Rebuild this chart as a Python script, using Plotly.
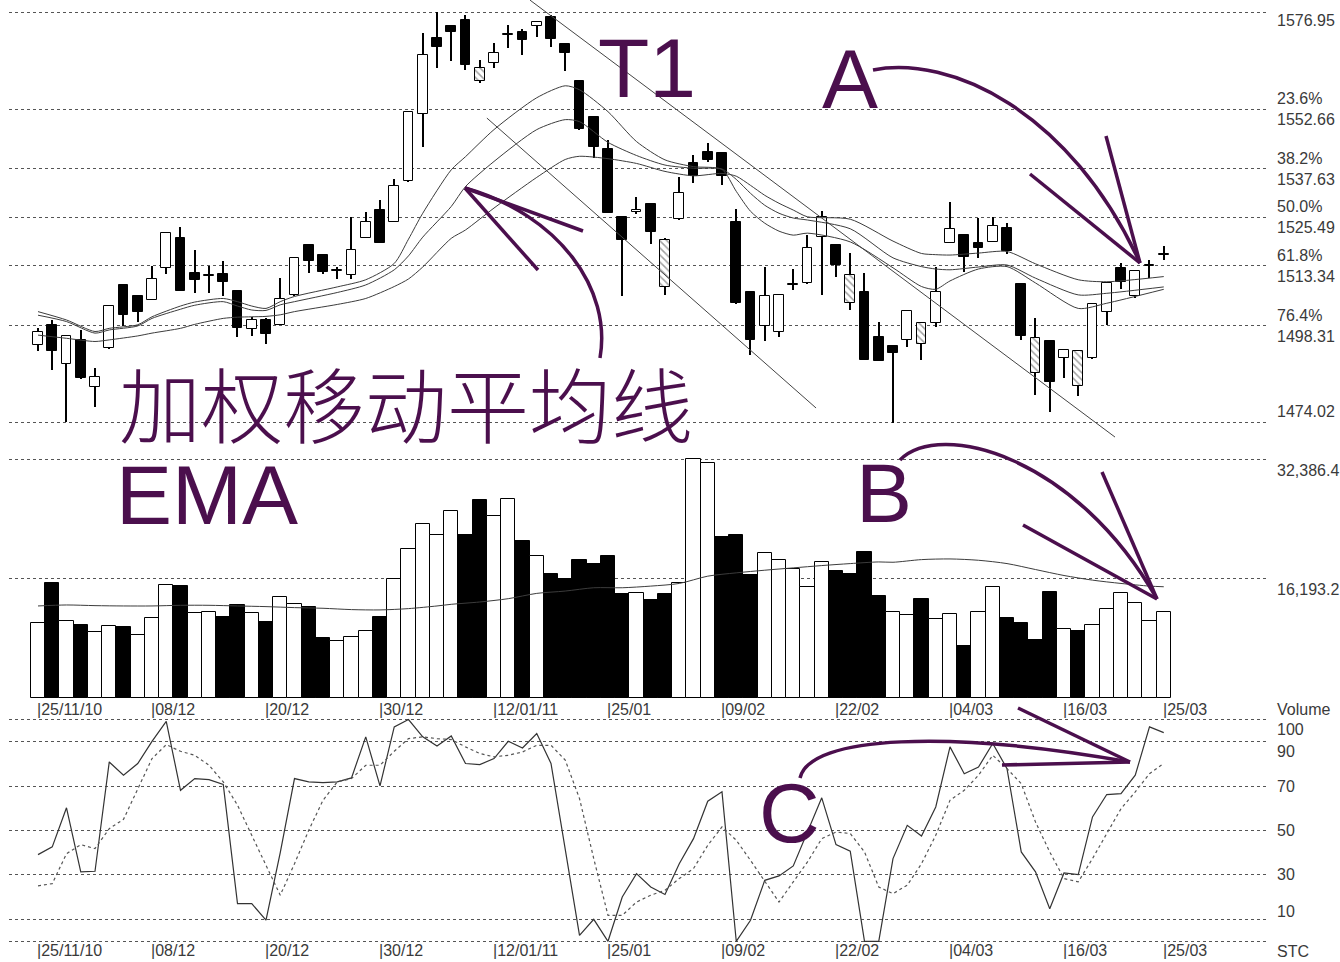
import plotly.graph_objects as go

W, H = 1340, 962

# ---------------- data ----------------
date_idx = [0, 8, 16, 24, 32, 40, 48, 56, 64, 72, 79]
date_labels = ["25/11/10", "08/12", "20/12", "30/12", "12/01/11", "25/01",
               "09/02", "22/02", "04/03", "16/03", "25/03"]

opens = [1493.4, 1498.5, 1488.7, 1494.7, 1482.8, 1492.6, 1508.5, 1505.7, 1504.6, 1512.7,
         1520.2, 1511.6, 1510.8, 1511.3, 1507.1, 1497.4, 1499.7, 1498.5, 1506.0, 1518.5,
         1516.0, 1512.0, 1511.0, 1520.4, 1527.2, 1524.4, 1534.5, 1551.4, 1570.4, 1573.5,
         1574.9, 1559.6, 1564.3, 1571.3, 1572.1, 1573.5, 1575.7, 1568.9, 1559.7, 1550.6,
         1542.6, 1525.5, 1526.9, 1528.8, 1507.9, 1525.0, 1539.2, 1542.0, 1541.6, 1524.4,
         1506.8, 1498.2, 1496.8, 1508.5, 1508.9, 1520.6, 1518.5, 1503.9, 1506.8, 1495.5,
         1493.2, 1494.8, 1493.7, 1499.0, 1519.1, 1521.0, 1519.1, 1519.4, 1522.7, 1508.7,
         1486.3, 1494.3, 1490.1, 1483.1, 1490.1, 1501.8, 1512.7, 1505.7, 1513.3, 1516.0]
highs = [1497.6, 1499.7, 1496.0, 1497.2, 1487.7, 1503.3, 1508.6, 1505.9, 1513.3, 1521.6,
         1523.1, 1517.3, 1513.3, 1514.4, 1507.2, 1500.5, 1500.1, 1510.2, 1515.3, 1518.6,
         1516.1, 1513.1, 1525.6, 1526.7, 1529.8, 1535.0, 1551.9, 1571.7, 1577.1, 1573.6,
         1576.3, 1565.0, 1569.2, 1573.8, 1572.7, 1574.7, 1576.3, 1569.0, 1559.8, 1550.7,
         1544.9, 1525.6, 1530.7, 1528.9, 1520.4, 1535.7, 1541.1, 1544.2, 1541.6, 1527.5,
         1506.9, 1513.1, 1506.1, 1512.6, 1521.0, 1527.0, 1518.6, 1516.5, 1511.4, 1499.3,
         1493.3, 1502.1, 1499.1, 1513.1, 1529.4, 1521.1, 1525.2, 1525.6, 1524.1, 1508.8,
         1500.1, 1494.7, 1492.3, 1491.9, 1503.8, 1509.0, 1513.9, 1512.2, 1514.8, 1518.3]
lows = [1491.8, 1487.2, 1474.2, 1485.0, 1477.8, 1492.5, 1498.2, 1499.3, 1504.6, 1511.3,
        1507.0, 1506.6, 1506.4, 1505.6, 1495.5, 1495.7, 1493.7, 1498.4, 1505.6, 1511.4,
        1511.2, 1510.0, 1510.1, 1520.3, 1519.0, 1524.4, 1534.4, 1543.2, 1562.9, 1564.6,
        1562.5, 1559.1, 1562.9, 1567.9, 1566.2, 1570.8, 1568.3, 1562.3, 1547.5, 1540.3,
        1526.5, 1505.7, 1526.4, 1518.9, 1506.0, 1524.9, 1534.0, 1539.4, 1533.6, 1503.8,
        1490.9, 1494.3, 1495.5, 1507.2, 1508.8, 1506.0, 1510.6, 1502.2, 1489.6, 1489.4,
        1473.9, 1493.0, 1489.7, 1498.0, 1519.0, 1511.8, 1515.2, 1519.3, 1516.3, 1494.7,
        1480.9, 1476.7, 1485.1, 1480.5, 1489.8, 1498.5, 1507.6, 1505.1, 1510.2, 1514.8]
closes = [1496.8, 1492.0, 1495.7, 1485.1, 1485.5, 1503.2, 1501.0, 1501.8, 1509.9, 1521.5,
          1507.1, 1509.8, 1510.8, 1509.3, 1497.6, 1499.7, 1496.2, 1505.0, 1515.2, 1514.4,
          1511.8, 1512.0, 1517.3, 1524.2, 1519.0, 1533.4, 1551.8, 1566.2, 1568.3, 1572.1,
          1563.7, 1562.9, 1566.7, 1571.3, 1570.0, 1574.6, 1570.2, 1566.7, 1547.6, 1543.1,
          1526.6, 1519.9, 1526.9, 1521.9, 1519.9, 1531.7, 1535.9, 1539.9, 1535.9, 1503.9,
          1494.7, 1505.6, 1506.0, 1508.5, 1517.7, 1525.6, 1513.5, 1511.0, 1489.7, 1489.5,
          1491.4, 1502.0, 1499.0, 1506.8, 1522.5, 1515.6, 1517.7, 1523.3, 1517.1, 1495.7,
          1495.1, 1484.2, 1492.2, 1491.8, 1503.7, 1508.9, 1509.3, 1512.1, 1513.3, 1516.0]

volume = [10152, 15632, 10466, 9927, 8894, 9793, 9568, 8535, 10916, 15273,
          15183, 11589, 11679, 11005, 12578, 11499, 10332, 13746, 12712, 12398,
          8131, 7771, 8220, 9119, 11005, 16081, 20259, 23583, 22056, 25380,
          22146, 26862, 24706, 26997, 21337, 19226, 16890, 16171, 18777, 18238,
          19316, 14060, 14195, 13296, 14060, 15542, 32387, 31893, 21831, 22146,
          16755, 19675, 18777, 17519, 15048, 18417, 17204, 16890, 19765, 13835,
          11679, 11230, 13476, 10691, 11455, 7008, 11679, 15048, 10916, 10242,
          7861, 14374, 9343, 9119, 9883, 12039, 14285, 12937, 10466, 11679]

# weighted moving averages
ma_idx = [0, 2, 4, 5, 7, 8, 10, 11, 13, 14, 15, 16, 17, 18, 21, 23, 25, 26, 27, 29,
          30, 32, 35, 37, 38, 40, 42, 44, 46, 48, 49, 50, 51, 52, 53, 54, 57, 60, 62, 63,
          64, 66, 68, 70, 73, 75, 79]
ma_fast = [1501.8, 1499.7, 1496.8, 1497.6, 1498.5, 1500.5, 1503.2, 1504.2, 1505.1, 1504.3,
           1503.2, 1502.6, 1504.3, 1505.6, 1508.0, 1509.8, 1513.9, 1520.0, 1526.5, 1537.4,
           1540.7, 1547.5, 1555.5, 1558.5, 1557.5, 1552.0, 1544.5, 1539.9, 1538.2, 1537.5,
           1532.0, 1527.0, 1524.0, 1522.0, 1521.0, 1521.5, 1519.3, 1512.8, 1508.1, 1507.4,
           1509.5, 1512.5, 1513.1, 1509.0, 1502.6, 1503.9, 1507.4]
ma_mid = [1500.9, 1499.3, 1496.4, 1497.2, 1498.2, 1500.1, 1502.4, 1503.4, 1504.3, 1503.2,
          1502.2, 1502.1, 1503.5, 1504.3, 1506.6, 1508.5, 1512.3, 1515.8, 1520.5, 1528.2,
          1533.2, 1539.5, 1547.5, 1550.0, 1549.5, 1544.3, 1541.0, 1538.6, 1537.8, 1537.6,
          1535.0, 1531.5, 1528.5, 1526.5, 1525.3, 1524.8, 1522.6, 1515.3, 1513.1, 1512.5,
          1512.3, 1513.0, 1513.5, 1510.2, 1506.0, 1506.4, 1508.0]
ma_slow = [1495.9, 1495.1, 1494.3, 1494.7, 1495.7, 1496.4, 1497.6, 1498.6, 1500.1, 1500.4,
           1500.5, 1500.6, 1501.0, 1501.8, 1503.6, 1505.1, 1508.1, 1510.0, 1513.0, 1520.2,
           1522.3, 1527.8, 1535.5, 1540.0, 1540.8, 1540.2, 1539.0, 1537.0, 1535.9, 1536.5,
           1535.8, 1533.5, 1531.0, 1529.0, 1527.3, 1525.6, 1525.0, 1519.5, 1516.4, 1516.1,
           1516.0, 1516.5, 1516.9, 1513.8, 1509.8, 1509.3, 1510.6]

vma_idx = [0, 2, 4, 6, 8, 10, 12, 14, 16, 18, 20, 22, 24, 26, 28, 29, 31, 33, 35, 37,
           39, 41, 43, 45, 47, 49, 51, 53, 55, 57, 59, 60, 62, 64, 66, 68, 70, 72, 74, 76,
           78, 79]
vma = [12488, 12622, 12533, 12488, 12488, 12578, 12578, 12488, 12398, 12263,
       12173, 11994, 11949, 12128, 12488, 12712, 13027, 13476, 14195, 14509,
       14958, 14958, 15183, 15542, 16531, 16980, 17339, 17654, 17968, 18238,
       18462, 18417, 18776, 18866, 18687, 18238, 17429, 16620, 15991, 15542,
       15183, 15093]

stoch_k = [39.1, 42.6, 60.2, 31.3, 31.6, 80.9, 74.9, 80.2, 90.2, 99.2,
           68.1, 73.4, 72.9, 70.7, 17.0, 17.0, 9.5, 40.0, 73.4, 71.9,
           71.6, 71.9, 73.7, 92.2, 70.1, 96.7, 100.0, 92.2, 88.1, 92.6,
           80.2, 79.7, 82.4, 90.2, 87.2, 93.7, 80.2, 41.5, 2.7, 9.9,
           0.0, 20.0, 30.5, 24.5, 21.1, 35.0, 46.3, 63.2, 67.4, 0.0,
           9.5, 27.5, 29.5, 34.0, 49.3, 64.7, 43.6, 40.6, 0.0, 0.0,
           37.3, 52.3, 47.5, 60.6, 87.7, 75.6, 78.6, 89.2, 77.9, 40.3,
           31.3, 14.7, 30.8, 30.1, 56.1, 66.2, 66.6, 74.9, 96.7, 94.1]
stoch_d = [25.0, 26.0, 39.5, 43.6, 41.8, 50.8, 55.0, 68.9, 82.4, 88.7,
           85.7, 83.9, 79.4, 71.9, 61.4, 47.8, 34.3, 20.8, 35.0, 50.1,
           63.6, 71.9, 73.4, 79.4, 79.4, 85.7, 91.4, 92.2, 91.4, 91.0,
           87.7, 84.7, 83.2, 83.9, 85.4, 88.4, 88.4, 81.7, 64.4, 37.3,
           11.7, 11.7, 17.7, 20.8, 23.0, 28.3, 32.8, 43.3, 51.6, 45.6,
           36.5, 26.8, 17.7, 26.8, 35.8, 46.3, 49.3, 48.6, 40.3, 24.5,
           21.5, 25.3, 35.0, 47.8, 63.6, 68.1, 74.9, 83.9, 77.9, 71.1,
           53.8, 40.3, 28.3, 26.8, 37.3, 48.6, 59.8, 67.4, 75.6, 80.2]

price_levels = [1576.95, 1552.66, 1537.63, 1525.49, 1513.34, 1498.31, 1474.02]
fib_labels = ["", "23.6%", "38.2%", "50.0%", "61.8%", "76.4%", ""]
vol_levels = [32386.4, 16193.2]
vol_level_labels = ["32,386.4", "16,193.2"]
stoch_levels = [100, 90, 70, 50, 30, 10, 0]

# hand-drawn trend lines (index, price)
trend1_x, trend1_y = [34.53, 75.58], [1580.0, 1470.3]
trend2_x, trend2_y = [31.5, 54.6], [1550.4, 1477.6]

# ---------------- styling / helpers ----------------
PURPLE = "#4b0f4d"
GRID = "#555555"
TXT = "#3a3a3a"
LBL_FONT = "Liberation Sans, Arial, sans-serif"


def ppx(x):
    return x / W


def ppy(y):
    return 1 - y / H


n = len(closes)
idx = list(range(n))
body_base = [min(o, c) for o, c in zip(opens, closes)]
body_h = [max(abs(c - o), 0.3) for o, c in zip(opens, closes)]
prev_close = [closes[0]] + closes[:-1]
hatched = [(c > o and c < pc) for o, c, pc in zip(opens, closes, prev_close)]
body_col = ["black" if c < o else "white" for o, c in zip(opens, closes)]
body_pat = ["\\" if h else "" for h in hatched]
vol_col = ["black" if (i > 0 and closes[i] < closes[i - 1]) else "white" for i in idx]

fig = go.Figure()

# wicks (bars so they sit under bodies)
fig.add_trace(go.Bar(x=idx, y=[h - l for h, l in zip(highs, lows)], base=lows,
                     width=0.075, marker=dict(color="black", line=dict(width=0)),
                     xaxis="x", yaxis="y", hoverinfo="skip", showlegend=False))
# bodies
fig.add_trace(go.Bar(x=idx, y=body_h, base=body_base, width=0.68,
                     marker=dict(color=body_col, line=dict(color="black", width=1),
                                 pattern=dict(shape=body_pat, fgcolor="black",
                                              bgcolor="white", size=5, solidity=0.3)),
                     xaxis="x", yaxis="y", showlegend=False))

# weighted moving averages
for arr in (ma_fast, ma_mid, ma_slow):
    fig.add_trace(go.Scatter(x=ma_idx, y=arr, mode="lines",
                             line=dict(color="#3c3c3c", width=1, shape="spline", smoothing=0.7),
                             xaxis="x", yaxis="y", showlegend=False))

# trend lines
for tx, ty in ((trend1_x, trend1_y), (trend2_x, trend2_y)):
    fig.add_trace(go.Scatter(x=tx, y=ty, mode="lines", line=dict(color="#444", width=1),
                             xaxis="x", yaxis="y", showlegend=False, cliponaxis=False))

# volume
fig.add_trace(go.Bar(x=idx, y=volume, width=1.0,
                     marker=dict(color=vol_col, line=dict(color="black", width=1)),
                     xaxis="x2", yaxis="y2", showlegend=False))
fig.add_trace(go.Scatter(x=vma_idx, y=vma, mode="lines",
                         line=dict(color="#3c3c3c", width=1, shape="spline", smoothing=0.8),
                         xaxis="x2", yaxis="y2", showlegend=False))

# stochastic
fig.add_trace(go.Scatter(x=idx, y=stoch_k, mode="lines", line=dict(color="#333", width=1.2),
                         xaxis="x3", yaxis="y3", showlegend=False))
fig.add_trace(go.Scatter(x=idx, y=stoch_d, mode="lines",
                         line=dict(color="#555", width=1.2, dash="3px,3px"),
                         xaxis="x3", yaxis="y3", showlegend=False))

# ---------------- axes ----------------
xr = [(9 - 38) / 14.25, (1268 - 38) / 14.25]
xdom = [9 / W, 1268 / W]
xcommon = dict(range=xr, domain=xdom, showgrid=False, zeroline=False, showticklabels=False,
               showline=False, ticks="")
gcommon = dict(showgrid=True, gridcolor=GRID, gridwidth=1, griddash="3px,3px",
               zeroline=False, showticklabels=False, showline=False, ticks="")

fig.update_layout(
    width=W, height=H, margin=dict(l=0, r=0, t=0, b=0),
    paper_bgcolor="white", plot_bgcolor="white", barmode="overlay", bargap=0,
    showlegend=False,
    xaxis=dict(**xcommon, anchor="y"),
    xaxis2=dict(**xcommon, anchor="y2", matches="x"),
    xaxis3=dict(**xcommon, anchor="y3", matches="x"),
    yaxis=dict(**gcommon, domain=[1 - 445 / H, 1], range=[1468.31, 1580.04],
               tickvals=price_levels, anchor="x"),
    yaxis2=dict(**gcommon, domain=[1 - 699 / H, 1 - 448 / H], range=[-136, 33920],
                tickvals=vol_levels, anchor="x2"),
    yaxis3=dict(**gcommon, domain=[1 - 944 / H, 1 - 716 / H], range=[-1.22, 101.62],
                tickvals=stoch_levels, anchor="x3"),
)

ann = []
lblx = 1275 / W
# price labels
for lv, fl in zip(price_levels, fib_labels):
    if fl:
        ann.append(dict(x=lblx, xref="paper", y=lv, yref="y", text=f"{fl}<br>{lv:.2f}",
                        xanchor="left", yanchor="middle", showarrow=False, align="left"))
    else:
        shift = -8 if lv == price_levels[0] else 11
        ann.append(dict(x=lblx, xref="paper", y=lv, yref="y", text=f"{lv:.2f}",
                        xanchor="left", yanchor="middle", showarrow=False, yshift=shift))
for lv, tl in zip(vol_levels, vol_level_labels):
    ann.append(dict(x=lblx, xref="paper", y=lv, yref="y2", text=tl, xanchor="left",
                    yanchor="middle", showarrow=False, yshift=-11))
stoch_shift = {100: -10, 90: -10, 70: 0, 50: 0, 30: 0, 10: 8}
for lv in stoch_levels:
    if lv in stoch_shift:
        ann.append(dict(x=lblx, xref="paper", y=lv, yref="y3", text=str(lv), xanchor="left",
                        yanchor="middle", showarrow=False, yshift=stoch_shift[lv]))
ann.append(dict(x=lblx, xref="paper", y=ppy(709), yref="paper", text="Volume",
                xanchor="left", yanchor="middle", showarrow=False))
ann.append(dict(x=lblx, xref="paper", y=ppy(951), yref="paper", text="STC",
                xanchor="left", yanchor="middle", showarrow=False))
# date labels under volume and stochastic panels
for di, dl in zip(date_idx, date_labels):
    for xa, yy in (("x2", 709), ("x3", 950)):
        ann.append(dict(x=di, xref=xa, y=ppy(yy), yref="paper", text="|" + dl,
                        xanchor="left", yanchor="middle", showarrow=False, xshift=-3))
for a in ann:
    a["font"] = dict(family=LBL_FONT, size=16, color=TXT)

# purple hand annotations
big = dict(family="Liberation Sans, Arial, sans-serif", size=84, color=PURPLE)
for txt, cx, cy in (("T1", 647, 68), ("A", 850, 79), ("B", 884, 493), ("C", 789, 813),
                    ("EMA", 207, 495)):
    ann.append(dict(x=ppx(cx), y=ppy(cy), xref="paper", yref="paper", text=txt,
                    showarrow=False, xanchor="center", yanchor="middle", font=big))
ann.append(dict(x=ppx(406), y=ppy(401), xref="paper", yref="paper", text="加权移动平均线",
                showarrow=False, xanchor="center", yanchor="middle",
                font=dict(family="Noto Sans CJK SC, sans-serif", size=82, color=PURPLE,
                          weight=300)))
fig.update_layout(annotations=ann)


def P(x, y):
    return f"{ppx(x):.5f},{ppy(y):.5f}"


shapes = []
curves = [
    ((600, 358), (612, 290), (560, 215), (465, 188)),
    ((873, 70), (950, 55), (1070, 110), (1140, 263)),
    ((900, 460), (940, 420), (1075, 455), (1157, 599)),
    ((800, 778), (810, 735), (950, 730), (1130, 762)),
]
for p0, c1, c2, p3 in curves:
    shapes.append(dict(type="path", xref="paper", yref="paper",
                       path=f"M {P(*p0)} C {P(*c1)} {P(*c2)} {P(*p3)}",
                       line=dict(color=PURPLE, width=3.5)))
heads = [
    ((465, 188), (583, 231)), ((465, 188), (538, 270)),
    ((1140, 263), (1030, 174)), ((1140, 263), (1106, 136)),
    ((1157, 599), (1023, 525)), ((1157, 599), (1102, 472)),
    ((1130, 762), (1002, 765)), ((1130, 762), (1018, 708)),
]
for (x0, y0), (x1, y1) in heads:
    shapes.append(dict(type="line", xref="paper", yref="paper", x0=ppx(x0), y0=ppy(y0),
                       x1=ppx(x1), y1=ppy(y1), line=dict(color=PURPLE, width=3.5)))
fig.update_layout(shapes=shapes)

fig.write_html("out.html", config={"displayModeBar": False},
               post_script="document.body.style.margin='0';"
                           "document.body.style.overflow='hidden';")
